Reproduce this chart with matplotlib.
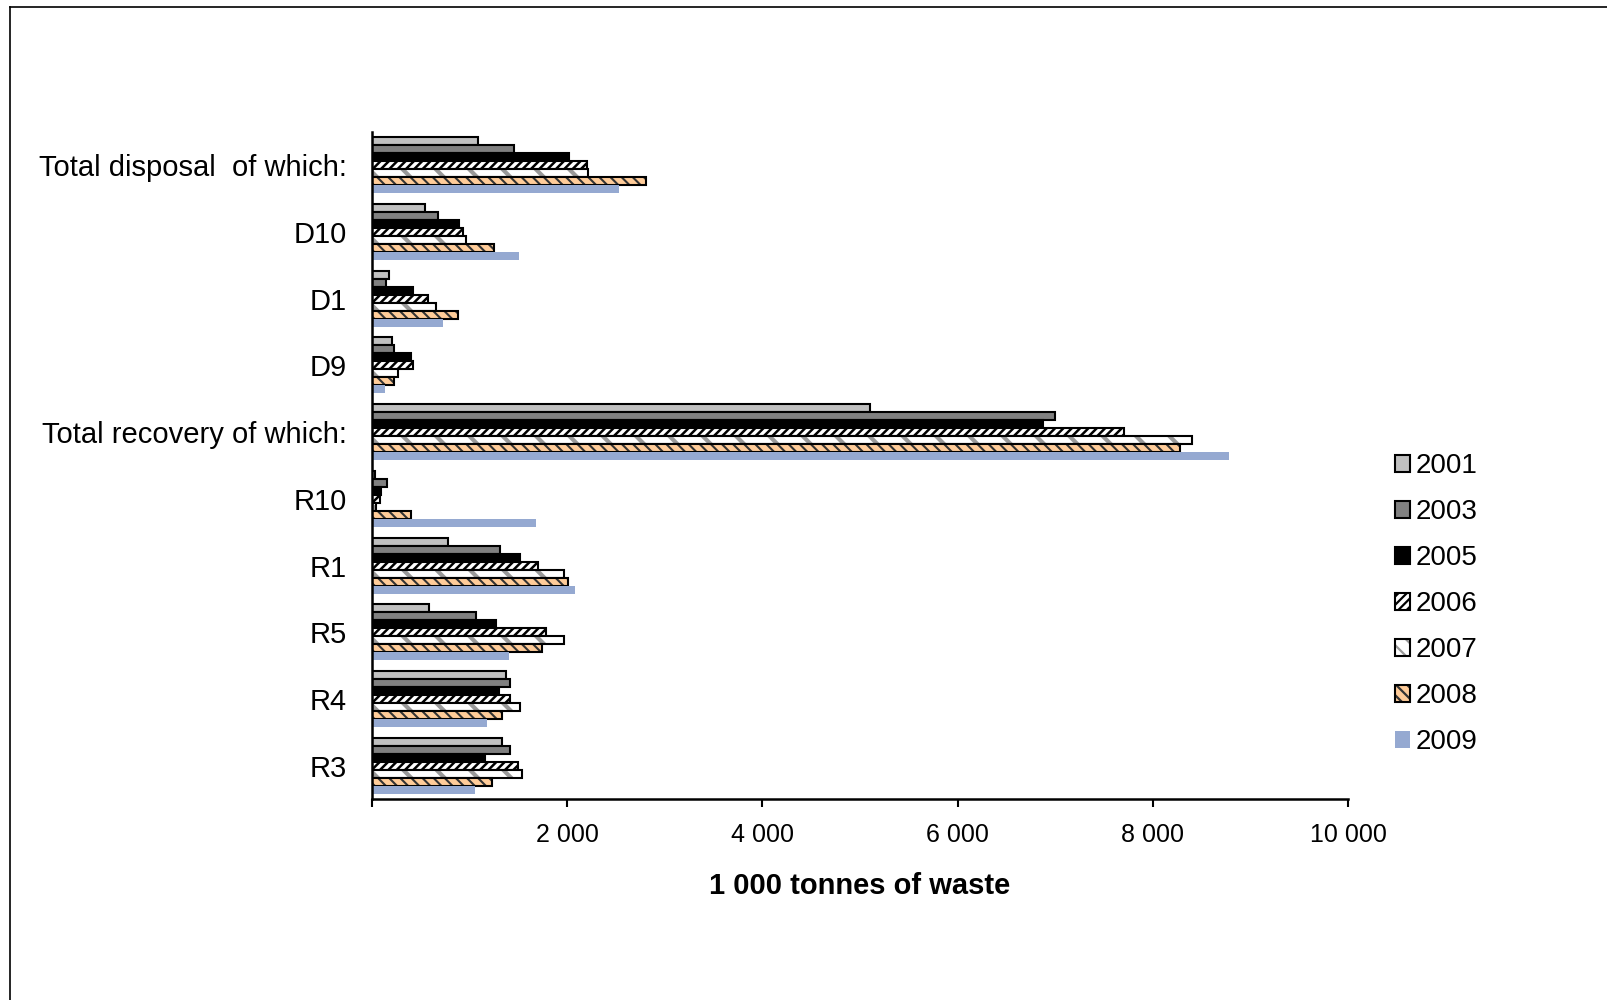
import numpy as np
import matplotlib.pyplot as plt
from matplotlib.legend_handler import HandlerTuple
from matplotlib.lines import Line2D
from matplotlib.patches import Patch

plt.rcParams['font.family'] = ['Liberation Sans', 'DejaVu Sans']
plt.rcParams['hatch.linewidth'] = 1.6

# categories, top to bottom
cats = ['Total disposal  of which:', 'D10', 'D1', 'D9', 'Total recovery of which:',
        'R10', 'R1', 'R5', 'R4', 'R3']
years = ['2001', '2003', '2005', '2006', '2007', '2008', '2009']

# 1 000 tonnes of waste
v2001 = [1090, 540, 170, 205, 5100, 30, 780, 580, 1370, 1335]
v2003 = [1460, 680, 145, 230, 7000, 150, 1310, 1070, 1415, 1415]
v2005 = [2020, 890, 415, 395, 6870, 90, 1520, 1275, 1300, 1155]
v2006 = [2200, 930, 575, 415, 7710, 80, 1705, 1785, 1415, 1500]
v2007 = [2215, 960, 660, 265, 8400, 40, 1970, 1970, 1520, 1540]
v2008 = [2810, 1255, 885, 230, 8280, 395, 2010, 1745, 1335, 1230]
v2009 = [2530, 1510, 725, 135, 8780, 1680, 2080, 1400, 1175, 1055]
series = [v2001, v2003, v2005, v2006, v2007, v2008, v2009]

xticks = [0, 2000, 4000, 6000, 8000, 10000]
xticklabels = ['', '2 000', '4 000', '6 000', '8 000', '10 000']

# face, hatch colour, hatch, black edge, hatch width
styles = [
    ('#C0C0C0', '#C0C0C0', None, True, 1.6),
    ('#808080', '#808080', None, True, 1.6),
    ('#000000', '#000000', None, True, 1.6),
    ('white', 'black', '////', True, 1.8),
    ('white', '#999999', '\\', True, 3.0),
    ('#FFCC99', '#333333', '\\\\\\', True, 1.5),
    ('#95A9D1', '#95A9D1', None, False, 1.6),
]

fig = plt.figure(figsize=(16.07, 10), dpi=100)
ax = fig.add_axes([372/1607, 1-799/1000, (1348-372)/1607, (799-132)/1000])

y = np.arange(len(cats))
h = 0.12
handles = []
for j, (vals, st) in enumerate(zip(series, styles)):
    face, hcol, hatch, edge, hlw = st
    pos = y + (j - 3) * h
    with plt.rc_context({'hatch.linewidth': hlw}):
        b1 = ax.barh(pos, vals, height=h, color=face, edgecolor=hcol, hatch=hatch, linewidth=0)
    if edge:
        b2 = ax.barh(pos, vals, height=h, fill=False, edgecolor='black', linewidth=1.5)
        handles.append((b1, b2))
    else:
        handles.append((b1,))

# small legend square for 2007 needs a denser hatch to show the stripe
with plt.rc_context({'hatch.linewidth': 2.5}):
    p07 = Patch(facecolor='white', edgecolor='#999999', hatch='\\\\', linewidth=0)
handles[4] = (p07, Patch(fill=False, edgecolor='black', linewidth=1.5))

ax.set_ylim(len(cats) - 0.5, -0.5)
ax.set_xlim(0, 10000)
ax.set_yticks(y)
ax.set_yticklabels(cats, fontsize=21)
ax.set_xticks(xticks)
ax.set_xticklabels(xticklabels, fontsize=18)
ax.tick_params(axis='y', length=0, pad=18)
ax.tick_params(axis='x', direction='out', length=6, width=1.5, pad=11)
for s in ['top', 'right']:
    ax.spines[s].set_visible(False)
for s in ['left', 'bottom']:
    ax.spines[s].set_linewidth(1.8)
ax.set_xlabel('1 000 tonnes of waste', fontsize=21, fontweight='bold', labelpad=18)

fig.legend(handles, years, handler_map={tuple: HandlerTuple(ndivide=1)},
           loc='upper left', bbox_to_anchor=(1395/1607, 1-453/1000), frameon=False,
           fontsize=20, handlelength=0.55, handleheight=0.55, handletextpad=0.2,
           labelspacing=0.72, borderpad=0, borderaxespad=0)

# chart border
fig.add_artist(Line2D([9.5/1607, 9.5/1607], [0, 1-6.5/1000], color='black', lw=1.2,
                      transform=fig.transFigure))
fig.add_artist(Line2D([9.5/1607, 1], [1-6.5/1000, 1-6.5/1000], color='black', lw=1.2,
                      transform=fig.transFigure))

fig.savefig('out.png', dpi=100)
